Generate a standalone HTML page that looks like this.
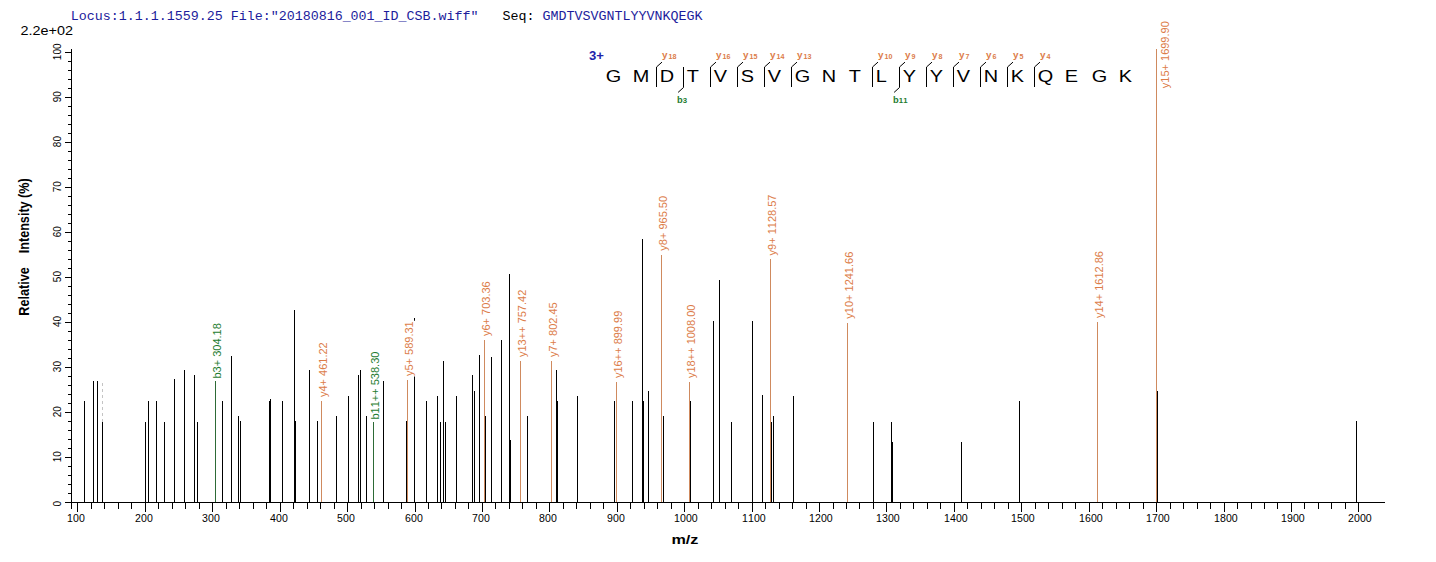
<!DOCTYPE html>
<html><head><meta charset="utf-8"><style>
html,body{margin:0;padding:0;background:#fff;width:1436px;height:562px;overflow:hidden}
svg{display:block}
text{font-family:"Liberation Sans",sans-serif;font-kerning:none}
text.mono{font-family:"Liberation Mono",monospace}
</style></head><body>
<svg width="1436" height="562" viewBox="0 0 1436 562">
<g shape-rendering="crispEdges">
<rect x="71" y="49" width="1" height="460" fill="#000000"/>
<rect x="65" y="502" width="1320" height="1" fill="#000000"/>
<rect x="65" y="502" width="6" height="1" fill="#000000"/>
<rect x="68" y="493" width="3" height="1" fill="#000000"/>
<rect x="68" y="484" width="3" height="1" fill="#000000"/>
<rect x="68" y="475" width="3" height="1" fill="#000000"/>
<rect x="68" y="466" width="3" height="1" fill="#000000"/>
<rect x="65" y="457" width="6" height="1" fill="#000000"/>
<rect x="68" y="448" width="3" height="1" fill="#000000"/>
<rect x="68" y="439" width="3" height="1" fill="#000000"/>
<rect x="68" y="430" width="3" height="1" fill="#000000"/>
<rect x="68" y="421" width="3" height="1" fill="#000000"/>
<rect x="65" y="412" width="6" height="1" fill="#000000"/>
<rect x="68" y="403" width="3" height="1" fill="#000000"/>
<rect x="68" y="394" width="3" height="1" fill="#000000"/>
<rect x="68" y="385" width="3" height="1" fill="#000000"/>
<rect x="68" y="376" width="3" height="1" fill="#000000"/>
<rect x="65" y="367" width="6" height="1" fill="#000000"/>
<rect x="68" y="358" width="3" height="1" fill="#000000"/>
<rect x="68" y="349" width="3" height="1" fill="#000000"/>
<rect x="68" y="340" width="3" height="1" fill="#000000"/>
<rect x="68" y="331" width="3" height="1" fill="#000000"/>
<rect x="65" y="322" width="6" height="1" fill="#000000"/>
<rect x="68" y="313" width="3" height="1" fill="#000000"/>
<rect x="68" y="304" width="3" height="1" fill="#000000"/>
<rect x="68" y="295" width="3" height="1" fill="#000000"/>
<rect x="68" y="286" width="3" height="1" fill="#000000"/>
<rect x="65" y="277" width="6" height="1" fill="#000000"/>
<rect x="68" y="268" width="3" height="1" fill="#000000"/>
<rect x="68" y="259" width="3" height="1" fill="#000000"/>
<rect x="68" y="250" width="3" height="1" fill="#000000"/>
<rect x="68" y="241" width="3" height="1" fill="#000000"/>
<rect x="65" y="232" width="6" height="1" fill="#000000"/>
<rect x="68" y="223" width="3" height="1" fill="#000000"/>
<rect x="68" y="214" width="3" height="1" fill="#000000"/>
<rect x="68" y="205" width="3" height="1" fill="#000000"/>
<rect x="68" y="196" width="3" height="1" fill="#000000"/>
<rect x="65" y="187" width="6" height="1" fill="#000000"/>
<rect x="68" y="178" width="3" height="1" fill="#000000"/>
<rect x="68" y="169" width="3" height="1" fill="#000000"/>
<rect x="68" y="160" width="3" height="1" fill="#000000"/>
<rect x="68" y="151" width="3" height="1" fill="#000000"/>
<rect x="65" y="142" width="6" height="1" fill="#000000"/>
<rect x="68" y="133" width="3" height="1" fill="#000000"/>
<rect x="68" y="124" width="3" height="1" fill="#000000"/>
<rect x="68" y="115" width="3" height="1" fill="#000000"/>
<rect x="68" y="106" width="3" height="1" fill="#000000"/>
<rect x="65" y="97" width="6" height="1" fill="#000000"/>
<rect x="68" y="88" width="3" height="1" fill="#000000"/>
<rect x="68" y="79" width="3" height="1" fill="#000000"/>
<rect x="68" y="70" width="3" height="1" fill="#000000"/>
<rect x="68" y="61" width="3" height="1" fill="#000000"/>
<rect x="65" y="52" width="6" height="1" fill="#000000"/>
<rect x="77" y="503" width="1" height="9" fill="#000000"/>
<rect x="91" y="503" width="1" height="6" fill="#000000"/>
<rect x="104" y="503" width="1" height="6" fill="#000000"/>
<rect x="118" y="503" width="1" height="6" fill="#000000"/>
<rect x="131" y="503" width="1" height="6" fill="#000000"/>
<rect x="145" y="503" width="1" height="9" fill="#000000"/>
<rect x="158" y="503" width="1" height="6" fill="#000000"/>
<rect x="172" y="503" width="1" height="6" fill="#000000"/>
<rect x="185" y="503" width="1" height="6" fill="#000000"/>
<rect x="199" y="503" width="1" height="6" fill="#000000"/>
<rect x="212" y="503" width="1" height="9" fill="#000000"/>
<rect x="226" y="503" width="1" height="6" fill="#000000"/>
<rect x="239" y="503" width="1" height="6" fill="#000000"/>
<rect x="253" y="503" width="1" height="6" fill="#000000"/>
<rect x="266" y="503" width="1" height="6" fill="#000000"/>
<rect x="280" y="503" width="1" height="9" fill="#000000"/>
<rect x="293" y="503" width="1" height="6" fill="#000000"/>
<rect x="307" y="503" width="1" height="6" fill="#000000"/>
<rect x="320" y="503" width="1" height="6" fill="#000000"/>
<rect x="334" y="503" width="1" height="6" fill="#000000"/>
<rect x="347" y="503" width="1" height="9" fill="#000000"/>
<rect x="361" y="503" width="1" height="6" fill="#000000"/>
<rect x="374" y="503" width="1" height="6" fill="#000000"/>
<rect x="388" y="503" width="1" height="6" fill="#000000"/>
<rect x="401" y="503" width="1" height="6" fill="#000000"/>
<rect x="415" y="503" width="1" height="9" fill="#000000"/>
<rect x="428" y="503" width="1" height="6" fill="#000000"/>
<rect x="441" y="503" width="1" height="6" fill="#000000"/>
<rect x="455" y="503" width="1" height="6" fill="#000000"/>
<rect x="468" y="503" width="1" height="6" fill="#000000"/>
<rect x="482" y="503" width="1" height="9" fill="#000000"/>
<rect x="495" y="503" width="1" height="6" fill="#000000"/>
<rect x="509" y="503" width="1" height="6" fill="#000000"/>
<rect x="522" y="503" width="1" height="6" fill="#000000"/>
<rect x="536" y="503" width="1" height="6" fill="#000000"/>
<rect x="549" y="503" width="1" height="9" fill="#000000"/>
<rect x="563" y="503" width="1" height="6" fill="#000000"/>
<rect x="576" y="503" width="1" height="6" fill="#000000"/>
<rect x="590" y="503" width="1" height="6" fill="#000000"/>
<rect x="603" y="503" width="1" height="6" fill="#000000"/>
<rect x="617" y="503" width="1" height="9" fill="#000000"/>
<rect x="630" y="503" width="1" height="6" fill="#000000"/>
<rect x="644" y="503" width="1" height="6" fill="#000000"/>
<rect x="657" y="503" width="1" height="6" fill="#000000"/>
<rect x="671" y="503" width="1" height="6" fill="#000000"/>
<rect x="684" y="503" width="1" height="9" fill="#000000"/>
<rect x="698" y="503" width="1" height="6" fill="#000000"/>
<rect x="711" y="503" width="1" height="6" fill="#000000"/>
<rect x="725" y="503" width="1" height="6" fill="#000000"/>
<rect x="738" y="503" width="1" height="6" fill="#000000"/>
<rect x="752" y="503" width="1" height="9" fill="#000000"/>
<rect x="765" y="503" width="1" height="6" fill="#000000"/>
<rect x="779" y="503" width="1" height="6" fill="#000000"/>
<rect x="792" y="503" width="1" height="6" fill="#000000"/>
<rect x="806" y="503" width="1" height="6" fill="#000000"/>
<rect x="819" y="503" width="1" height="9" fill="#000000"/>
<rect x="833" y="503" width="1" height="6" fill="#000000"/>
<rect x="846" y="503" width="1" height="6" fill="#000000"/>
<rect x="859" y="503" width="1" height="6" fill="#000000"/>
<rect x="873" y="503" width="1" height="6" fill="#000000"/>
<rect x="886" y="503" width="1" height="9" fill="#000000"/>
<rect x="900" y="503" width="1" height="6" fill="#000000"/>
<rect x="913" y="503" width="1" height="6" fill="#000000"/>
<rect x="927" y="503" width="1" height="6" fill="#000000"/>
<rect x="940" y="503" width="1" height="6" fill="#000000"/>
<rect x="954" y="503" width="1" height="9" fill="#000000"/>
<rect x="967" y="503" width="1" height="6" fill="#000000"/>
<rect x="981" y="503" width="1" height="6" fill="#000000"/>
<rect x="994" y="503" width="1" height="6" fill="#000000"/>
<rect x="1008" y="503" width="1" height="6" fill="#000000"/>
<rect x="1021" y="503" width="1" height="9" fill="#000000"/>
<rect x="1035" y="503" width="1" height="6" fill="#000000"/>
<rect x="1048" y="503" width="1" height="6" fill="#000000"/>
<rect x="1062" y="503" width="1" height="6" fill="#000000"/>
<rect x="1075" y="503" width="1" height="6" fill="#000000"/>
<rect x="1089" y="503" width="1" height="9" fill="#000000"/>
<rect x="1102" y="503" width="1" height="6" fill="#000000"/>
<rect x="1116" y="503" width="1" height="6" fill="#000000"/>
<rect x="1129" y="503" width="1" height="6" fill="#000000"/>
<rect x="1143" y="503" width="1" height="6" fill="#000000"/>
<rect x="1156" y="503" width="1" height="9" fill="#000000"/>
<rect x="1170" y="503" width="1" height="6" fill="#000000"/>
<rect x="1183" y="503" width="1" height="6" fill="#000000"/>
<rect x="1197" y="503" width="1" height="6" fill="#000000"/>
<rect x="1210" y="503" width="1" height="6" fill="#000000"/>
<rect x="1224" y="503" width="1" height="9" fill="#000000"/>
<rect x="1237" y="503" width="1" height="6" fill="#000000"/>
<rect x="1251" y="503" width="1" height="6" fill="#000000"/>
<rect x="1264" y="503" width="1" height="6" fill="#000000"/>
<rect x="1277" y="503" width="1" height="6" fill="#000000"/>
<rect x="1291" y="503" width="1" height="9" fill="#000000"/>
<rect x="1304" y="503" width="1" height="6" fill="#000000"/>
<rect x="1318" y="503" width="1" height="6" fill="#000000"/>
<rect x="1331" y="503" width="1" height="6" fill="#000000"/>
<rect x="1345" y="503" width="1" height="6" fill="#000000"/>
<rect x="1358" y="503" width="1" height="9" fill="#000000"/>
<rect x="102" y="383" width="1" height="3" fill="#c4c4c4"/>
<rect x="102" y="389" width="1" height="3" fill="#c4c4c4"/>
<rect x="102" y="395" width="1" height="3" fill="#c4c4c4"/>
<rect x="102" y="401" width="1" height="3" fill="#c4c4c4"/>
<rect x="102" y="407" width="1" height="3" fill="#c4c4c4"/>
<rect x="102" y="413" width="1" height="3" fill="#c4c4c4"/>
<rect x="102" y="419" width="1" height="3" fill="#c4c4c4"/>
<rect x="215" y="381" width="1" height="121" fill="#2d6a36"/>
<rect x="321" y="401" width="1" height="101" fill="#cf8a5e"/>
<rect x="373" y="422" width="1" height="80" fill="#2d6a36"/>
<rect x="407" y="380" width="1" height="122" fill="#cf8a5e"/>
<rect x="484" y="340" width="1" height="162" fill="#cf8a5e"/>
<rect x="520" y="361" width="1" height="141" fill="#cf8a5e"/>
<rect x="551" y="361" width="1" height="141" fill="#cf8a5e"/>
<rect x="616" y="382" width="1" height="120" fill="#cf8a5e"/>
<rect x="661" y="255" width="1" height="247" fill="#cf8a5e"/>
<rect x="689" y="382" width="1" height="120" fill="#cf8a5e"/>
<rect x="770" y="259" width="1" height="243" fill="#cf8a5e"/>
<rect x="847" y="323" width="1" height="179" fill="#cf8a5e"/>
<rect x="1097" y="322" width="1" height="180" fill="#cf8a5e"/>
<rect x="1156" y="49" width="1" height="453" fill="#cf8a5e"/>
<rect x="84" y="401" width="1" height="101" fill="#000000"/>
<rect x="93" y="381" width="1" height="121" fill="#000000"/>
<rect x="97" y="381" width="1" height="121" fill="#000000"/>
<rect x="102" y="422" width="1" height="80" fill="#000000"/>
<rect x="145" y="422" width="1" height="80" fill="#000000"/>
<rect x="148" y="401" width="1" height="101" fill="#000000"/>
<rect x="156" y="401" width="1" height="101" fill="#000000"/>
<rect x="164" y="422" width="1" height="80" fill="#000000"/>
<rect x="174" y="379" width="1" height="123" fill="#000000"/>
<rect x="184" y="370" width="1" height="132" fill="#000000"/>
<rect x="194" y="375" width="1" height="127" fill="#000000"/>
<rect x="197" y="422" width="1" height="80" fill="#000000"/>
<rect x="222" y="401" width="1" height="101" fill="#000000"/>
<rect x="231" y="356" width="1" height="146" fill="#000000"/>
<rect x="238" y="416" width="1" height="86" fill="#000000"/>
<rect x="240" y="421" width="1" height="81" fill="#000000"/>
<rect x="269" y="401" width="1" height="101" fill="#000000"/>
<rect x="270" y="399" width="1" height="103" fill="#000000"/>
<rect x="282" y="401" width="1" height="101" fill="#000000"/>
<rect x="294" y="310" width="1" height="192" fill="#000000"/>
<rect x="295" y="421" width="1" height="81" fill="#000000"/>
<rect x="309" y="370" width="1" height="132" fill="#000000"/>
<rect x="317" y="421" width="1" height="81" fill="#000000"/>
<rect x="336" y="416" width="1" height="86" fill="#000000"/>
<rect x="348" y="396" width="1" height="106" fill="#000000"/>
<rect x="358" y="375" width="1" height="127" fill="#000000"/>
<rect x="360" y="370" width="1" height="132" fill="#000000"/>
<rect x="366" y="416" width="1" height="86" fill="#000000"/>
<rect x="383" y="381" width="1" height="121" fill="#000000"/>
<rect x="406" y="421" width="1" height="81" fill="#000000"/>
<rect x="414" y="318" width="1" height="184" fill="#000000"/>
<rect x="426" y="401" width="1" height="101" fill="#000000"/>
<rect x="437" y="396" width="1" height="106" fill="#000000"/>
<rect x="440" y="422" width="1" height="80" fill="#000000"/>
<rect x="443" y="361" width="1" height="141" fill="#000000"/>
<rect x="445" y="422" width="1" height="80" fill="#000000"/>
<rect x="456" y="396" width="1" height="106" fill="#000000"/>
<rect x="472" y="375" width="1" height="127" fill="#000000"/>
<rect x="474" y="391" width="1" height="111" fill="#000000"/>
<rect x="479" y="355" width="1" height="147" fill="#000000"/>
<rect x="485" y="416" width="1" height="86" fill="#000000"/>
<rect x="491" y="357" width="1" height="145" fill="#000000"/>
<rect x="501" y="340" width="1" height="162" fill="#000000"/>
<rect x="509" y="274" width="1" height="228" fill="#000000"/>
<rect x="510" y="440" width="1" height="62" fill="#000000"/>
<rect x="527" y="416" width="1" height="86" fill="#000000"/>
<rect x="556" y="370" width="1" height="132" fill="#000000"/>
<rect x="557" y="401" width="1" height="101" fill="#000000"/>
<rect x="577" y="396" width="1" height="106" fill="#000000"/>
<rect x="614" y="401" width="1" height="101" fill="#000000"/>
<rect x="632" y="401" width="1" height="101" fill="#000000"/>
<rect x="642" y="239" width="1" height="263" fill="#000000"/>
<rect x="643" y="401" width="1" height="101" fill="#000000"/>
<rect x="648" y="391" width="1" height="111" fill="#000000"/>
<rect x="663" y="416" width="1" height="86" fill="#000000"/>
<rect x="690" y="401" width="1" height="101" fill="#000000"/>
<rect x="713" y="321" width="1" height="181" fill="#000000"/>
<rect x="719" y="280" width="1" height="222" fill="#000000"/>
<rect x="731" y="422" width="1" height="80" fill="#000000"/>
<rect x="752" y="321" width="1" height="181" fill="#000000"/>
<rect x="762" y="395" width="1" height="107" fill="#000000"/>
<rect x="771" y="422" width="1" height="80" fill="#000000"/>
<rect x="773" y="416" width="1" height="86" fill="#000000"/>
<rect x="793" y="396" width="1" height="106" fill="#000000"/>
<rect x="873" y="422" width="1" height="80" fill="#000000"/>
<rect x="891" y="422" width="1" height="80" fill="#000000"/>
<rect x="892" y="442" width="1" height="60" fill="#000000"/>
<rect x="961" y="442" width="1" height="60" fill="#000000"/>
<rect x="1019" y="401" width="1" height="101" fill="#000000"/>
<rect x="1157" y="391" width="1" height="111" fill="#000000"/>
<rect x="1356" y="421" width="1" height="81" fill="#000000"/>
</g>
<g transform="translate(220.70,378.50) rotate(-90)"><rect x="-0.5" y="-10" width="56.36" height="12.8" fill="#fff"/><text x="0" y="0" font-size="11" fill="#1e7c30">b3+ 304.18</text></g>
<g transform="translate(326.70,397.00) rotate(-90)"><rect x="-0.5" y="-10" width="55.74" height="12.8" fill="#fff"/><text x="0" y="0" font-size="11" fill="#dc7c48">y4+ 461.22</text></g>
<g transform="translate(378.70,419.50) rotate(-90)"><rect x="-0.5" y="-10" width="68.90" height="12.8" fill="#fff"/><text x="0" y="0" font-size="11" fill="#1e7c30">b11++ 538.30</text></g>
<g transform="translate(412.70,376.00) rotate(-90)"><rect x="-0.5" y="-10" width="55.74" height="12.8" fill="#fff"/><text x="0" y="0" font-size="11" fill="#dc7c48">y5+ 589.31</text></g>
<g transform="translate(489.70,336.00) rotate(-90)"><rect x="-0.5" y="-10" width="55.74" height="12.8" fill="#fff"/><text x="0" y="0" font-size="11" fill="#dc7c48">y6+ 703.36</text></g>
<g transform="translate(525.70,357.00) rotate(-90)"><rect x="-0.5" y="-10" width="68.28" height="12.8" fill="#fff"/><text x="0" y="0" font-size="11" fill="#dc7c48">y13++ 757.42</text></g>
<g transform="translate(556.70,357.00) rotate(-90)"><rect x="-0.5" y="-10" width="55.74" height="12.8" fill="#fff"/><text x="0" y="0" font-size="11" fill="#dc7c48">y7+ 802.45</text></g>
<g transform="translate(621.70,378.00) rotate(-90)"><rect x="-0.5" y="-10" width="68.28" height="12.8" fill="#fff"/><text x="0" y="0" font-size="11" fill="#dc7c48">y16++ 899.99</text></g>
<g transform="translate(666.70,250.70) rotate(-90)"><rect x="-0.5" y="-10" width="55.74" height="12.8" fill="#fff"/><text x="0" y="0" font-size="11" fill="#dc7c48">y8+ 965.50</text></g>
<g transform="translate(694.70,378.00) rotate(-90)"><rect x="-0.5" y="-10" width="74.40" height="12.8" fill="#fff"/><text x="0" y="0" font-size="11" fill="#dc7c48">y18++ 1008.00</text></g>
<g transform="translate(775.70,255.40) rotate(-90)"><rect x="-0.5" y="-10" width="61.86" height="12.8" fill="#fff"/><text x="0" y="0" font-size="11" fill="#dc7c48">y9+ 1128.57</text></g>
<g transform="translate(852.70,318.70) rotate(-90)"><rect x="-0.5" y="-10" width="67.98" height="12.8" fill="#fff"/><text x="0" y="0" font-size="11" fill="#dc7c48">y10+ 1241.66</text></g>
<g transform="translate(1102.70,318.00) rotate(-90)"><rect x="-0.5" y="-10" width="67.98" height="12.8" fill="#fff"/><text x="0" y="0" font-size="11" fill="#dc7c48">y14+ 1612.86</text></g>
<g transform="translate(1168.80,88.20) rotate(-90)"><rect x="-0.5" y="-10" width="67.98" height="12.8" fill="#fff"/><text x="0" y="0" font-size="11" fill="#dc7c48">y15+ 1699.90</text></g>
<text transform="translate(60.6,506.38) rotate(-90)" font-size="10" fill="#000">0</text>
<text transform="translate(60.6,462.35) rotate(-90)" font-size="10" fill="#000">10</text>
<text transform="translate(60.6,417.22) rotate(-90)" font-size="10" fill="#000">20</text>
<text transform="translate(60.6,372.16) rotate(-90)" font-size="10" fill="#000">30</text>
<text transform="translate(60.6,327.08) rotate(-90)" font-size="10" fill="#000">40</text>
<text transform="translate(60.6,282.17) rotate(-90)" font-size="10" fill="#000">50</text>
<text transform="translate(60.6,237.22) rotate(-90)" font-size="10" fill="#000">60</text>
<text transform="translate(60.6,192.22) rotate(-90)" font-size="10" fill="#000">70</text>
<text transform="translate(60.6,147.18) rotate(-90)" font-size="10" fill="#000">80</text>
<text transform="translate(60.6,102.20) rotate(-90)" font-size="10" fill="#000">90</text>
<text transform="translate(60.6,60.13) rotate(-90)" font-size="10" fill="#000">100</text>
<text transform="translate(67.10,521.9) scale(1.06,1)" font-size="10" fill="#000">100</text>
<text transform="translate(135.10,521.9) scale(1.06,1)" font-size="10" fill="#000">200</text>
<text transform="translate(202.10,521.9) scale(1.06,1)" font-size="10" fill="#000">300</text>
<text transform="translate(270.10,521.9) scale(1.06,1)" font-size="10" fill="#000">400</text>
<text transform="translate(337.10,521.9) scale(1.06,1)" font-size="10" fill="#000">500</text>
<text transform="translate(405.10,521.9) scale(1.06,1)" font-size="10" fill="#000">600</text>
<text transform="translate(472.10,521.9) scale(1.06,1)" font-size="10" fill="#000">700</text>
<text transform="translate(539.10,521.9) scale(1.06,1)" font-size="10" fill="#000">800</text>
<text transform="translate(607.10,521.9) scale(1.06,1)" font-size="10" fill="#000">900</text>
<text transform="translate(674.10,521.9) scale(1.06,1)" font-size="10" fill="#000">1000</text>
<text transform="translate(742.10,521.9) scale(1.06,1)" font-size="10" fill="#000">1100</text>
<text transform="translate(809.10,521.9) scale(1.06,1)" font-size="10" fill="#000">1200</text>
<text transform="translate(876.10,521.9) scale(1.06,1)" font-size="10" fill="#000">1300</text>
<text transform="translate(944.10,521.9) scale(1.06,1)" font-size="10" fill="#000">1400</text>
<text transform="translate(1011.10,521.9) scale(1.06,1)" font-size="10" fill="#000">1500</text>
<text transform="translate(1079.10,521.9) scale(1.06,1)" font-size="10" fill="#000">1600</text>
<text transform="translate(1146.10,521.9) scale(1.06,1)" font-size="10" fill="#000">1700</text>
<text transform="translate(1214.10,521.9) scale(1.06,1)" font-size="10" fill="#000">1800</text>
<text transform="translate(1281.10,521.9) scale(1.06,1)" font-size="10" fill="#000">1900</text>
<text transform="translate(1348.10,521.9) scale(1.06,1)" font-size="10" fill="#000">2000</text>
<text transform="translate(20.58,34.58) scale(1.1999,1.0240)" font-size="12" fill="#000">2.2e+02</text>
<text transform="translate(671.43,544.44) scale(1.2485,1.0020)" font-size="13" font-weight="bold" fill="#000">m/z</text>
<text transform="translate(29.0,315.64) rotate(-90) scale(1.0098,1.15)" font-size="12.5" font-weight="bold" fill="#000" xml:space="preserve">Relative    Intensity (%)</text>
<text class="mono" x="70.7" y="19.9" font-size="13.333" xml:space="preserve"><tspan fill="#1c1c9c">Locus:1.1.1.1559.25 File:"20180816_001_ID_CSB.wiff"</tspan><tspan fill="#000">   Seq: </tspan><tspan fill="#1c1c9c">GMDTVSVGNTLYYVNKQEGK</tspan></text>
<text transform="translate(605.80,81.8) scale(1.2,1.04)" font-size="16.6" fill="#000">G</text>
<text transform="translate(632.80,81.8) scale(1.2,1.04)" font-size="16.6" fill="#000">M</text>
<text transform="translate(659.80,81.8) scale(1.2,1.04)" font-size="16.6" fill="#000">D</text>
<text transform="translate(686.80,81.8) scale(1.2,1.04)" font-size="16.6" fill="#000">T</text>
<text transform="translate(713.80,81.8) scale(1.2,1.04)" font-size="16.6" fill="#000">V</text>
<text transform="translate(740.80,81.8) scale(1.2,1.04)" font-size="16.6" fill="#000">S</text>
<text transform="translate(767.80,81.8) scale(1.2,1.04)" font-size="16.6" fill="#000">V</text>
<text transform="translate(794.80,81.8) scale(1.2,1.04)" font-size="16.6" fill="#000">G</text>
<text transform="translate(821.80,81.8) scale(1.2,1.04)" font-size="16.6" fill="#000">N</text>
<text transform="translate(848.80,81.8) scale(1.2,1.04)" font-size="16.6" fill="#000">T</text>
<text transform="translate(875.80,81.8) scale(1.2,1.04)" font-size="16.6" fill="#000">L</text>
<text transform="translate(902.80,81.8) scale(1.2,1.04)" font-size="16.6" fill="#000">Y</text>
<text transform="translate(929.80,81.8) scale(1.2,1.04)" font-size="16.6" fill="#000">Y</text>
<text transform="translate(956.80,81.8) scale(1.2,1.04)" font-size="16.6" fill="#000">V</text>
<text transform="translate(983.80,81.8) scale(1.2,1.04)" font-size="16.6" fill="#000">N</text>
<text transform="translate(1010.80,81.8) scale(1.2,1.04)" font-size="16.6" fill="#000">K</text>
<text transform="translate(1037.80,81.8) scale(1.2,1.04)" font-size="16.6" fill="#000">Q</text>
<text transform="translate(1064.80,81.8) scale(1.2,1.04)" font-size="16.6" fill="#000">E</text>
<text transform="translate(1091.80,81.8) scale(1.2,1.04)" font-size="16.6" fill="#000">G</text>
<text transform="translate(1118.80,81.8) scale(1.2,1.04)" font-size="16.6" fill="#000">K</text>
<text transform="translate(589.10,60.45) scale(1.0074,0.9975)" font-size="13" font-weight="bold" fill="#2222aa">3+</text>
<text transform="translate(661.90,57.9) scale(1.1,1)" font-size="9" font-weight="bold" fill="#dc7c48">y</text>
<text transform="translate(668.50,58.9) scale(0.95,1)" font-size="7.5" font-weight="bold" fill="#dc7c48">18</text>
<text transform="translate(715.90,57.9) scale(1.1,1)" font-size="9" font-weight="bold" fill="#dc7c48">y</text>
<text transform="translate(722.50,58.9) scale(0.95,1)" font-size="7.5" font-weight="bold" fill="#dc7c48">16</text>
<text transform="translate(742.90,57.9) scale(1.1,1)" font-size="9" font-weight="bold" fill="#dc7c48">y</text>
<text transform="translate(749.50,58.9) scale(0.95,1)" font-size="7.5" font-weight="bold" fill="#dc7c48">15</text>
<text transform="translate(769.90,57.9) scale(1.1,1)" font-size="9" font-weight="bold" fill="#dc7c48">y</text>
<text transform="translate(776.50,58.9) scale(0.95,1)" font-size="7.5" font-weight="bold" fill="#dc7c48">14</text>
<text transform="translate(796.90,57.9) scale(1.1,1)" font-size="9" font-weight="bold" fill="#dc7c48">y</text>
<text transform="translate(803.50,58.9) scale(0.95,1)" font-size="7.5" font-weight="bold" fill="#dc7c48">13</text>
<text transform="translate(877.90,57.9) scale(1.1,1)" font-size="9" font-weight="bold" fill="#dc7c48">y</text>
<text transform="translate(884.50,58.9) scale(0.95,1)" font-size="7.5" font-weight="bold" fill="#dc7c48">10</text>
<text transform="translate(904.90,57.9) scale(1.1,1)" font-size="9" font-weight="bold" fill="#dc7c48">y</text>
<text transform="translate(911.50,58.9) scale(0.95,1)" font-size="7.5" font-weight="bold" fill="#dc7c48">9</text>
<text transform="translate(931.90,57.9) scale(1.1,1)" font-size="9" font-weight="bold" fill="#dc7c48">y</text>
<text transform="translate(938.50,58.9) scale(0.95,1)" font-size="7.5" font-weight="bold" fill="#dc7c48">8</text>
<text transform="translate(958.90,57.9) scale(1.1,1)" font-size="9" font-weight="bold" fill="#dc7c48">y</text>
<text transform="translate(965.50,58.9) scale(0.95,1)" font-size="7.5" font-weight="bold" fill="#dc7c48">7</text>
<text transform="translate(985.90,57.9) scale(1.1,1)" font-size="9" font-weight="bold" fill="#dc7c48">y</text>
<text transform="translate(992.50,58.9) scale(0.95,1)" font-size="7.5" font-weight="bold" fill="#dc7c48">6</text>
<text transform="translate(1012.90,57.9) scale(1.1,1)" font-size="9" font-weight="bold" fill="#dc7c48">y</text>
<text transform="translate(1019.50,58.9) scale(0.95,1)" font-size="7.5" font-weight="bold" fill="#dc7c48">5</text>
<text transform="translate(1039.90,57.9) scale(1.1,1)" font-size="9" font-weight="bold" fill="#dc7c48">y</text>
<text transform="translate(1046.50,58.9) scale(0.95,1)" font-size="7.5" font-weight="bold" fill="#dc7c48">4</text>
<text transform="translate(676.90,102.8) scale(1.0,1)" font-size="9.3" font-weight="bold" fill="#1e7c30">b</text>
<text transform="translate(682.80,103.4) scale(1.0,1)" font-size="7.8" font-weight="bold" fill="#1e7c30">3</text>
<text transform="translate(892.90,102.8) scale(1.0,1)" font-size="9.3" font-weight="bold" fill="#1e7c30">b</text>
<text transform="translate(898.80,103.4) scale(1.0,1)" font-size="7.8" font-weight="bold" fill="#1e7c30">11</text>
<path d="M656.50 87 L656.50 67 L662.00 62.1 M710.50 87 L710.50 67 L716.00 62.1 M737.50 87 L737.50 67 L743.00 62.1 M764.50 87 L764.50 67 L770.00 62.1 M791.50 87 L791.50 67 L797.00 62.1 M872.50 87 L872.50 67 L878.00 62.1 M899.50 87 L899.50 67 L905.00 62.1 M926.50 87 L926.50 67 L932.00 62.1 M953.50 87 L953.50 67 L959.00 62.1 M980.50 87 L980.50 67 L986.00 62.1 M1007.50 87 L1007.50 67 L1013.00 62.1 M1034.50 87 L1034.50 67 L1040.00 62.1 M683.50 67 L683.50 87.5 L678.10 92.4 M899.50 67 L899.50 87.5 L894.10 92.4" stroke="#000" stroke-width="1" fill="none"/>
</svg>
</body></html>
